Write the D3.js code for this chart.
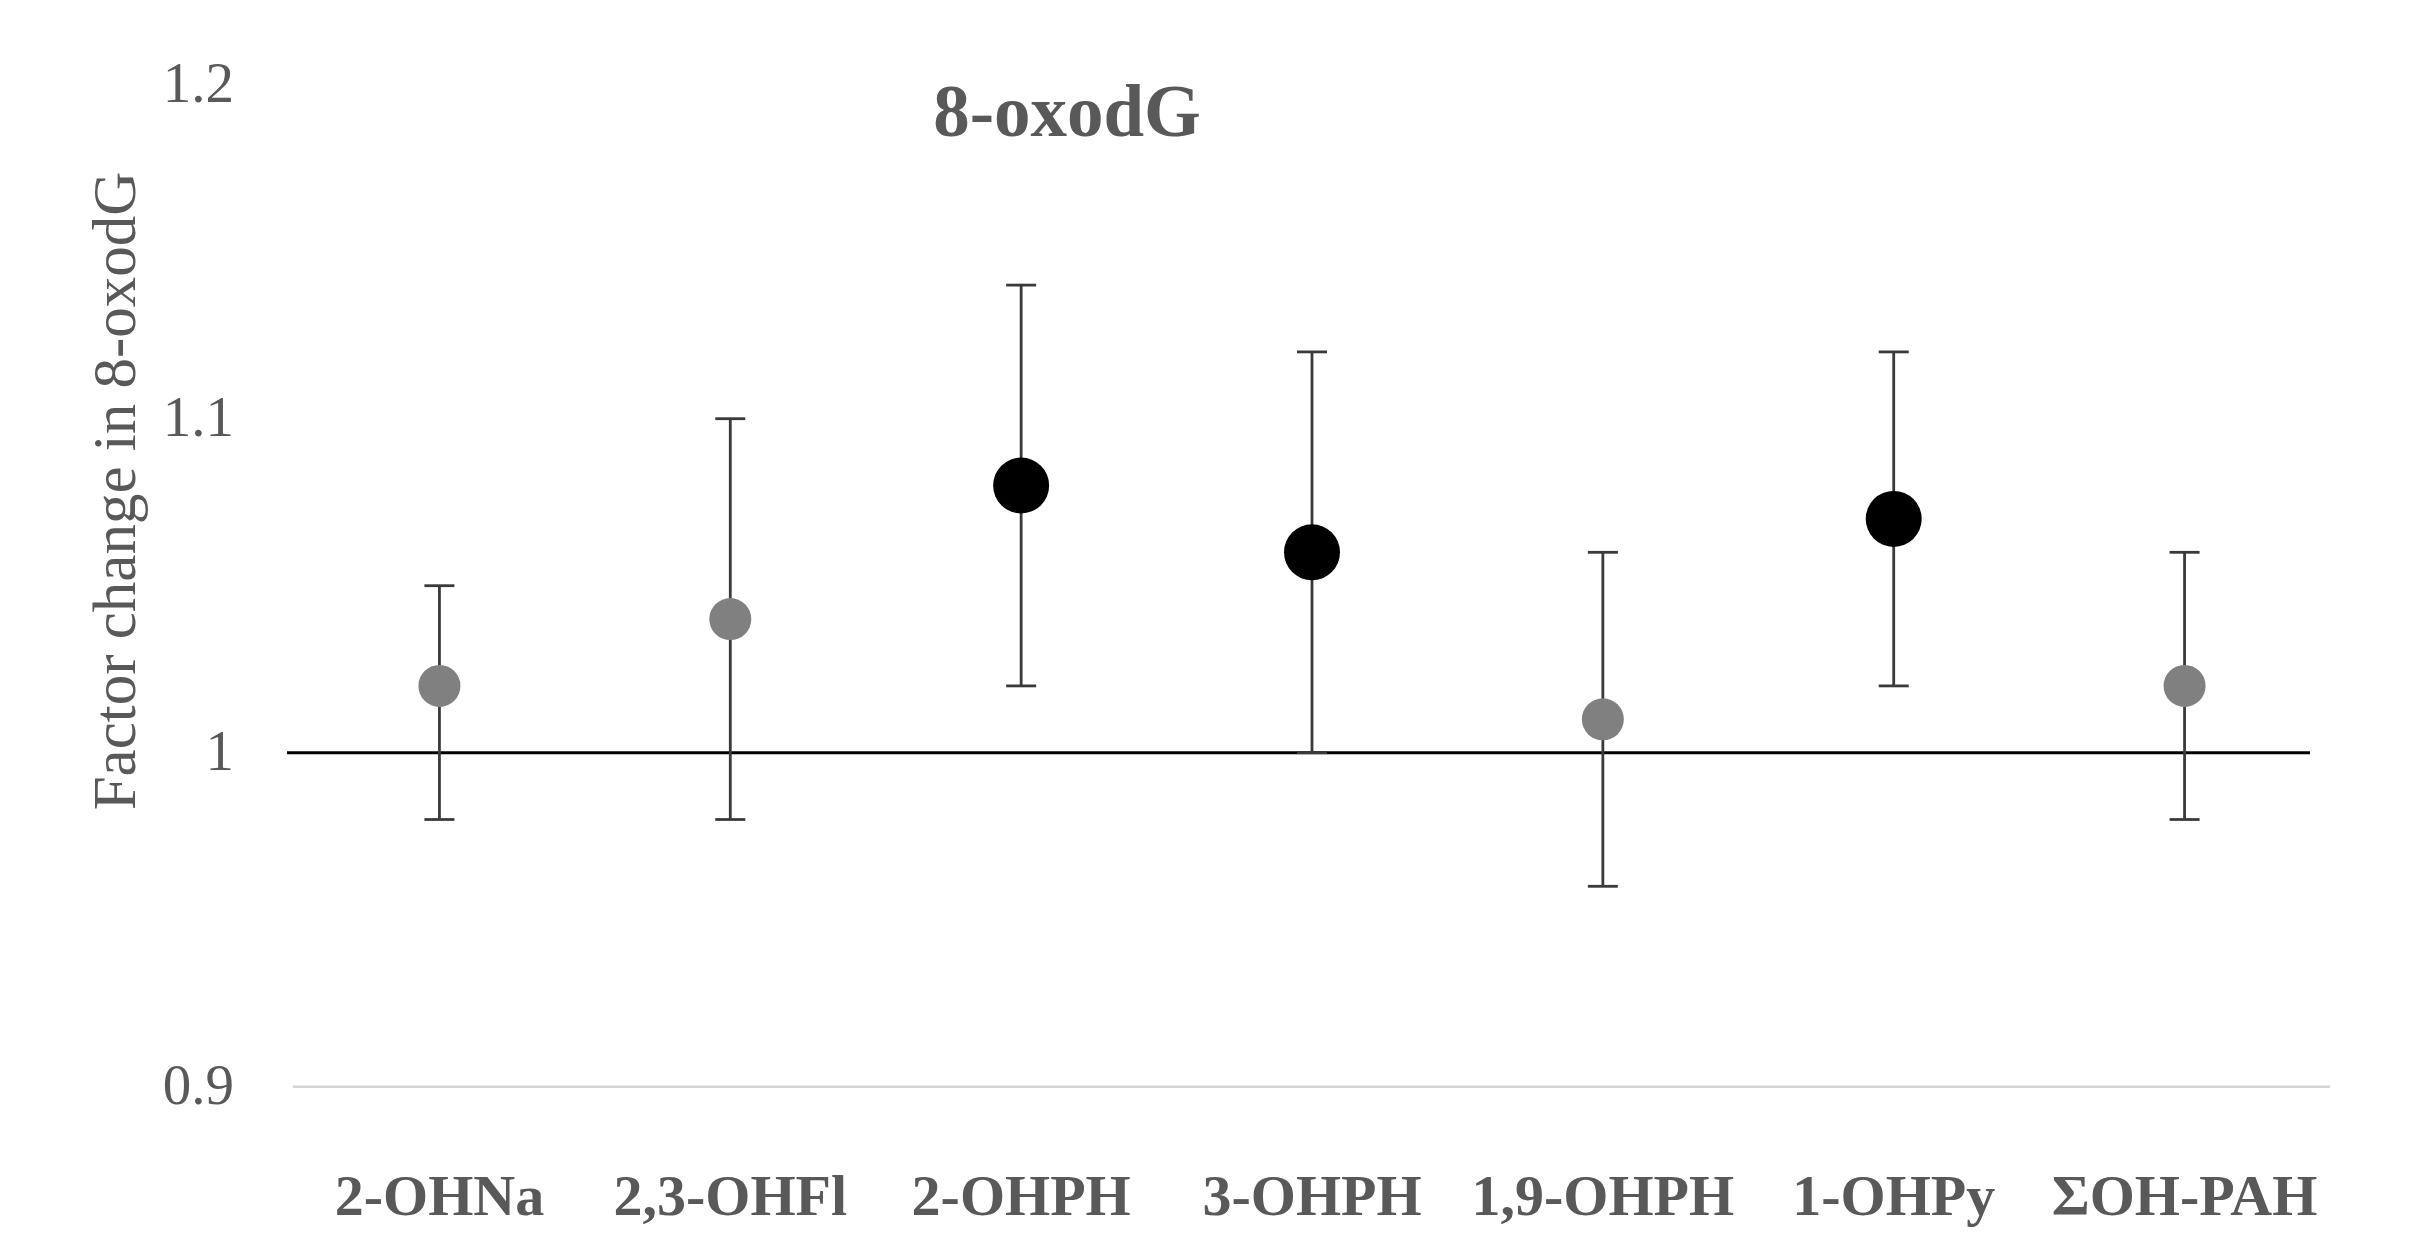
<!DOCTYPE html>
<html>
<head>
<meta charset="utf-8">
<script src="https://cdn.jsdelivr.net/npm/d3@7"></script>
<style>
  html, body { margin: 0; padding: 0; background: #fff; }
  svg { display: block; }
</style>
</head>
<body>
<script>
// ---- data ----
const categories = ["2-OHNa", "2,3-OHFl", "2-OHPH", "3-OHPH", "1,9-OHPH", "1-OHPy", "ΣOH-PAH"];
const estimates  = [1.02, 1.04, 1.08, 1.06, 1.01, 1.07, 1.02];
const lowerCI    = [0.98, 0.98, 1.02, 1.00, 0.96, 1.02, 0.98];
const upperCI    = [1.05, 1.10, 1.14, 1.12, 1.06, 1.12, 1.06];
const significant = [false, false, true, true, false, true, false];
const yTicks = [0.9, 1, 1.1, 1.2];
const yTickLabels = ["0.9", "1", "1.1", "1.2"];
const chartTitle = "8-oxodG";
const yAxisTitle = "Factor change in 8-oxodG";

// ---- layout ----
const W = 2409, H = 1254;
const plotLeft = 294, plotRight = 2330;
const serif = "'Liberation Serif', 'DejaVu Serif', serif";

const svg = d3.select("body").append("svg").attr("width", W).attr("height", H);

const x = d3.scaleBand().domain(categories).range([plotLeft, plotRight]).padding(0);
const y = d3.scaleLinear().domain([0.9, 1.2]).range([1086.7, 84.7]);

// gridline at 0.9
svg.append("line")
  .attr("x1", 293).attr("x2", 2330)
  .attr("y1", y(0.9)).attr("y2", y(0.9))
  .attr("stroke", "#d4d4d4").attr("stroke-width", 2.5);

// reference line at 1.0
svg.append("line")
  .attr("x1", 287).attr("x2", 2310)
  .attr("y1", y(1)).attr("y2", y(1))
  .attr("stroke", "#000").attr("stroke-width", 3);

// y tick labels
const yAxis = d3.axisLeft(y).tickValues(yTicks).tickSize(0).tickPadding(0)
  .tickFormat((d, i) => yTickLabels[i]);
const yg = svg.append("g").attr("transform", "translate(234,0)").call(yAxis);
yg.select(".domain").remove();
yg.selectAll("text")
  .attr("font-family", serif).attr("font-size", 57).attr("fill", "#595959")
  .attr("dy", "0.3em");

// x category labels
const xAxis = d3.axisBottom(x).tickSize(0).tickPadding(0);
const xg = svg.append("g").attr("transform", "translate(0,1215)").call(xAxis);
xg.select(".domain").remove();
xg.selectAll("text")
  .attr("font-family", serif).attr("font-size", 58).attr("font-weight", "bold")
  .attr("fill", "#595959").attr("dy", 0);

const data = categories.map((c, i) => ({
  c, est: estimates[i], lo: lowerCI[i], hi: upperCI[i], sig: significant[i]
}));
const cx = d => x(d.c) + x.bandwidth() / 2;

// error bars
const eb = svg.append("g").attr("stroke", "#3a3a3a").attr("stroke-width", 2.8);
eb.selectAll("line.v").data(data).join("line").attr("class", "v")
  .attr("x1", cx).attr("x2", cx)
  .attr("y1", d => y(d.hi)).attr("y2", d => y(d.lo));
eb.selectAll("line.top").data(data).join("line").attr("class", "top")
  .attr("x1", d => cx(d) - 15).attr("x2", d => cx(d) + 15)
  .attr("y1", d => y(d.hi)).attr("y2", d => y(d.hi));
eb.selectAll("line.bot").data(data).join("line").attr("class", "bot")
  .attr("x1", d => cx(d) - 15).attr("x2", d => cx(d) + 15)
  .attr("y1", d => y(d.lo)).attr("y2", d => y(d.lo));

// points
svg.append("g").selectAll("circle").data(data).join("circle")
  .attr("cx", cx).attr("cy", d => y(d.est))
  .attr("r", d => d.sig ? 28 : 21)
  .attr("fill", d => d.sig ? "#000" : "#808080");

// chart title
svg.append("text")
  .attr("x", 1067).attr("y", 136)
  .attr("text-anchor", "middle")
  .attr("font-family", serif).attr("font-size", 73).attr("font-weight", "bold")
  .attr("fill", "#595959")
  .text(chartTitle);

// y axis title
svg.append("text")
  .attr("transform", "translate(135,491) rotate(-90)")
  .attr("text-anchor", "middle")
  .attr("font-family", serif).attr("font-size", 61)
  .attr("fill", "#595959")
  .text(yAxisTitle);
</script>
</body>
</html>
